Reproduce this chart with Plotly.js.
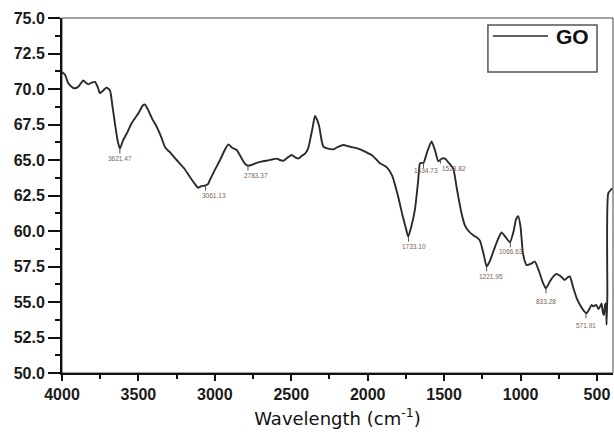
<!DOCTYPE html>
<html>
<head>
<meta charset="utf-8">
<script src="https://cdn.plot.ly/plotly-3.0.1.min.js"></script>
<style>html,body{margin:0;padding:0;background:#fff}#chart{width:614px;height:434px}</style>
</head>
<body>
<div id="chart"></div>
<script>
// FTIR spectrum of GO
const wavenumber = [4000,3980,3959,3930,3915,3890,3861,3840,3828,3805,3784,3765,3751,3730,3708,3686,3670,3650,3635,3621,3600,3570,3544,3500,3470,3457,3440,3410,3381,3350,3326,3290,3250,3200,3163,3130,3110,3090,3064,3045,3032,3000,2966,2935,2912,2885,2857,2824,2800,2783,2760,2726,2690,2661,2620,2595,2575,2552,2520,2497,2475,2454,2430,2410,2390,2377,2360,2345,2330,2317,2300,2290,2260,2225,2190,2160,2120,2080,2050,2010,1974,1940,1920,1876,1840,1800,1770,1750,1735,1715,1691,1670,1658,1645,1634,1610,1582,1560,1538,1515,1494,1470,1440,1420,1407,1385,1364,1340,1309,1280,1265,1240,1222,1200,1170,1140,1124,1100,1069,1045,1030,1015,1000,985,970,960,930,906,880,855,834,810,785,764,735,710,690,677,655,630,600,580,568,550,535,524,505,490,480,470,462,454,447,441,437,432,426,400];
const transmittance = [71.2,71.0,70.4,70.1,70.05,70.2,70.6,70.4,70.33,70.45,70.5,70.1,69.7,69.9,70.1,69.9,68.8,67.3,66.3,65.8,66.4,67.0,67.6,68.3,68.85,68.9,68.6,67.9,67.35,66.6,65.9,65.5,65.0,64.4,63.8,63.3,63.05,63.15,63.2,63.3,63.6,64.3,65.0,65.7,66.1,65.85,65.7,65.1,64.7,64.6,64.65,64.8,64.9,64.95,65.05,65.1,65.0,64.95,65.2,65.35,65.2,65.1,65.3,65.45,65.8,66.4,67.3,68.1,67.8,67.35,66.3,65.94,65.8,65.75,65.95,66.06,65.95,65.85,65.75,65.55,65.35,65.0,64.77,64.5,63.9,62.4,61.0,60.2,59.6,60.3,61.5,63.5,64.77,64.8,64.8,65.6,66.3,65.7,64.9,65.1,65.1,64.8,64.4,63.2,62.4,61.2,60.4,60.0,59.7,59.5,59.3,58.3,57.5,57.9,58.8,59.6,59.9,59.6,59.2,60.0,60.8,61.05,60.3,58.5,57.8,57.6,57.7,57.85,57.2,56.4,55.96,56.4,56.8,56.97,56.8,56.55,56.75,56.8,56.0,55.2,54.6,54.3,54.2,54.5,54.8,54.7,54.8,54.5,54.67,54.9,54.3,54.08,54.8,54.9,53.4,55.5,62.65,63.0];

const seriesName = "GO";
const peakWavenumber = [3621.47,3061.13,2783.37,1733.10,1634.73,1523.82,1221.95,1066.63,833.28,571.91];
const peakTransmittance = [65.8,63.2,64.6,59.6,64.8,65.1,57.5,59.2,55.96,54.2];
const peakLabels = ["3621.47","3061.13","2783.37","1733.10","1634.73","1523.82","1221.95","1066.63","833.28","571.91"];

const xTickVals = [4000,3500,3000,2500,2000,1500,1000,500];
const yTickVals = [50,52.5,55,57.5,60,62.5,65,67.5,70,72.5,75];

// label nudges (style only, pixels)
const labelDx = [0,8,8,6,2,14,4,1,0,0];
const labelDy = [-10,-10,-10,-10,-8,-10,-10,-9,-13,-12];

const FONT = "Liberation Sans, Arial, sans-serif";
const TICKFONT = "Liberation Sans, Arial, sans-serif";

const trace = {
  x: wavenumber, y: transmittance, type: "scatter", mode: "lines",
  name: seriesName, showlegend: false,
  line: {color: "#2a2a2a", width: 1.9, shape: "spline", smoothing: 0.5}
};

const annotations = peakWavenumber.map((w, i) => ({
  x: w, y: peakTransmittance[i], xref: "x", yref: "y",
  text: peakLabels[i], showarrow: false,
  xanchor: "center", yanchor: "middle",
  xshift: labelDx[i], yshift: labelDy[i],
  font: {family: FONT, size: 6.5, color: "#7a5f52"}
}));
annotations.push({
  x: 0.927, y: 0.949, xref: "paper", yref: "paper",
  text: "<b>" + seriesName + "</b>", showarrow: false, xanchor: "center", yanchor: "middle",
  font: {family: FONT, size: 21, color: "#111"}
});

const shapes = [
  {type: "rect", xref: "paper", yref: "paper", x0: 0, x1: 1, y0: 0, y1: 1,
   line: {color: "#444", width: 1}, layer: "below"},
  {type: "rect", xref: "paper", yref: "paper", x0: 0.773, x1: 0.971, y0: 0.848, y1: 0.980,
   line: {color: "#555", width: 1.5}, fillcolor: "rgba(0,0,0,0)"},
  {type: "line", xref: "paper", yref: "paper", x0: 0.782, x1: 0.882, y0: 0.949, y1: 0.949,
   line: {color: "#2a2a2a", width: 1.5}}
];
peakWavenumber.forEach((w, i) => {
  shapes.push({type: "line", xref: "x", yref: "y", ysizemode: "pixel",
    yanchor: peakTransmittance[i], x0: w, x1: w, y0: 0, y1: -5,
    line: {color: "#555", width: 1}});
});

const layout = {
  width: 614, height: 434,
  margin: {l: 62, r: 1, t: 18, b: 61},
  paper_bgcolor: "#fff", plot_bgcolor: "#fff",
  font: {family: FONT, color: "#111"},
  xaxis: {
    range: [4000, 395], tickvals: xTickVals, ticktext: xTickVals.map(v => "<b>" + v + "</b>"),
    ticks: "outside", ticklen: 6, tickwidth: 2, tickcolor: "#111",
    showline: true, linewidth: 2, linecolor: "#111", mirror: false,
    showgrid: false, zeroline: false,
    minor: {dtick: 250, tick0: 0, ticks: "outside", ticklen: 4, tickwidth: 2, tickcolor: "#111", showgrid: false},
    tickfont: {family: TICKFONT, size: 16, color: "#1a1a1a"},
    title: {text: "Wavelength (cm<sup>-1</sup>)", font: {family: "DejaVu Sans, sans-serif", size: 18, color: "#111"}, standoff: 10}
  },
  yaxis: {
    range: [50, 75], tickvals: yTickVals, ticktext: yTickVals.map(v => "<b>" + v.toFixed(1) + "</b>"),
    ticks: "outside", ticklen: 12, tickwidth: 2, tickcolor: "#111",
    showline: true, linewidth: 2, linecolor: "#111", mirror: false,
    showgrid: false, zeroline: false,
    minor: {dtick: 1.25, tick0: 0, ticks: "outside", ticklen: 5, tickwidth: 2, tickcolor: "#111", showgrid: false},
    tickfont: {family: TICKFONT, size: 16, color: "#1a1a1a"}
  },
  annotations: annotations,
  shapes: shapes,
  showlegend: false
};

Plotly.newPlot("chart", [trace], layout, {displayModeBar: false, staticPlot: true});
</script>
</body>
</html>
